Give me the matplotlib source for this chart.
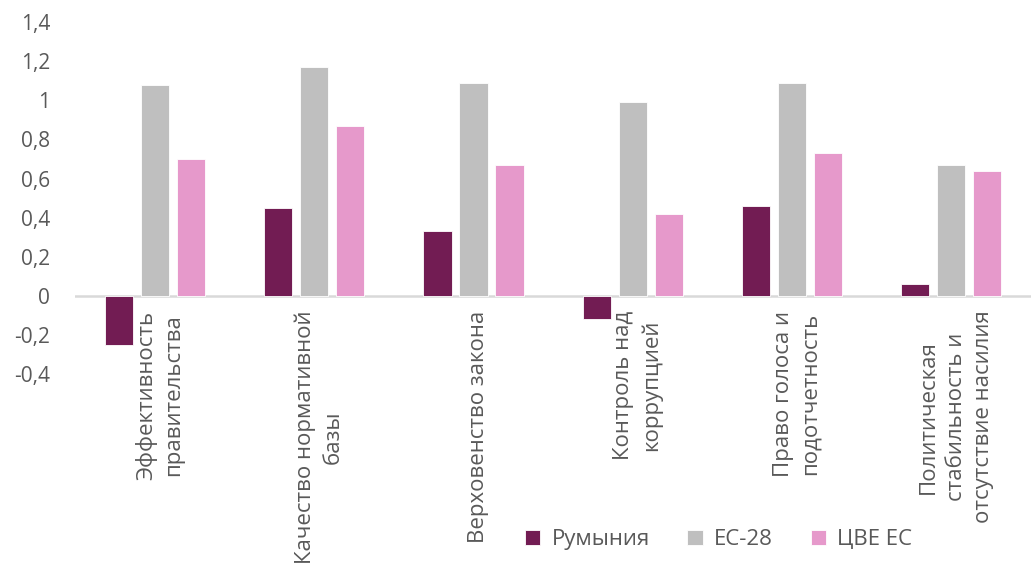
import numpy as np
import matplotlib
matplotlib.use("Agg")
import matplotlib.pyplot as plt

plt.rcParams['font.family'] = ['Open Sans', 'DejaVu Sans']

# data
categories = [
    "Эффективность\nправительства",
    "Качество нормативной\nбазы",
    "Верховенство закона",
    "Контроль над\nкоррупцией",
    "Право голоса и\nподотчетность",
    "Политическая\nстабильность и\nотсутствие насилия",
]
series_names = ["Румыния", "ЕС-28", "ЦВЕ ЕС"]
romania = [-0.25, 0.45, 0.33, -0.12, 0.46, 0.06]
eu28 = [1.08, 1.17, 1.09, 0.99, 1.09, 0.67]
cee = [0.70, 0.87, 0.67, 0.42, 0.73, 0.64]
y_ticks = [-0.4, -0.2, 0, 0.2, 0.4, 0.6, 0.8, 1.0, 1.2, 1.4]

colors = ["#721C53", "#BFBFBF", "#E699CB"]
text_col = "#595959"

fig = plt.figure(figsize=(10.31, 5.66), dpi=100)
ax = fig.add_axes([0.073, 0.339, 0.927, 0.622])

x = np.arange(len(categories))
width = 0.176
step = 0.226
for i, (vals, name) in enumerate(zip([romania, eu28, cee], series_names)):
    ax.bar(x + (i - 1) * step, vals, width, color=colors[i], label=name,
           edgecolor="white", linewidth=0.6, zorder=2)

ax.axhline(0, color="#D9D9D9", lw=1.8, zorder=1)

ax.set_xlim(-0.5, len(categories) - 0.5)
ax.set_ylim(-0.4, 1.4)
ax.set_yticks(y_ticks)
ax.set_yticklabels([("%g" % v).replace(".", ",") for v in y_ticks],
                   fontsize=15, color=text_col)
ax.tick_params(axis="y", length=0, pad=18)
ax.set_xticks([])
for s in ax.spines.values():
    s.set_visible(False)

for i, lab in enumerate(categories):
    ax.text(x[i] + 0.03, -0.075, lab, rotation=90, ha="center", va="top",
            multialignment="center", fontsize=16, linespacing=1.4,
            color=text_col, clip_on=False)

leg = fig.legend(loc="center", bbox_to_anchor=(0.697, 0.046), ncol=3,
                 frameon=False, fontsize=16, handlelength=0.7, handleheight=0.7,
                 columnspacing=1.7, handletextpad=0.5)
for t in leg.get_texts():
    t.set_color(text_col)

fig.savefig("out.png", dpi=100)
